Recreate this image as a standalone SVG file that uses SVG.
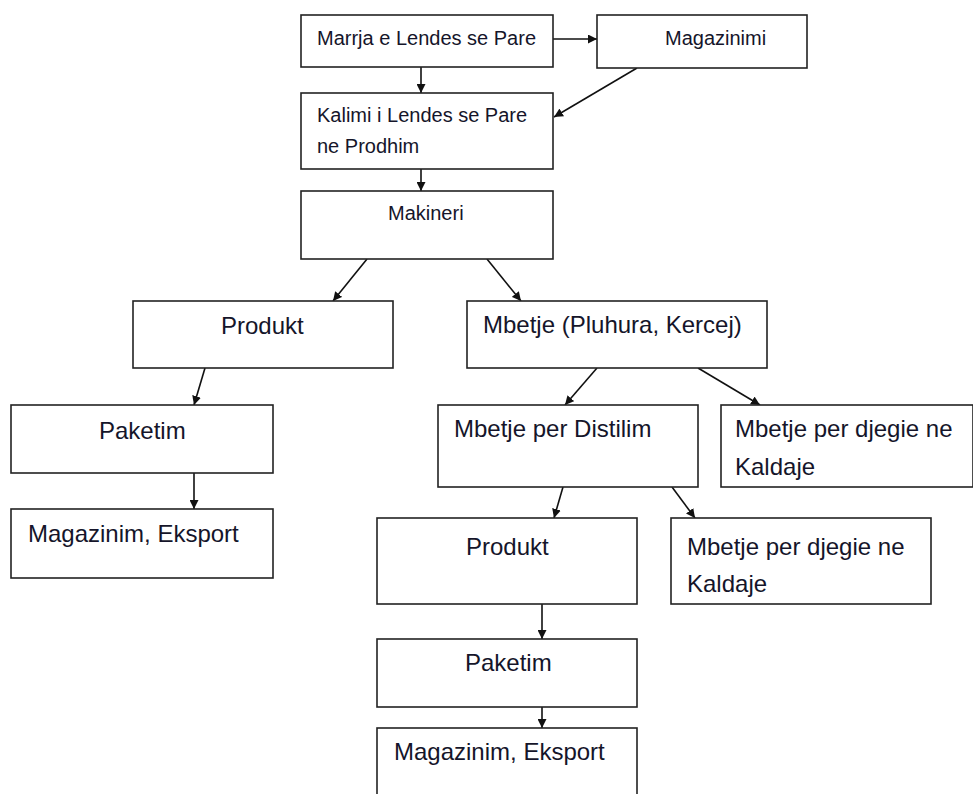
<svg xmlns="http://www.w3.org/2000/svg" width="973" height="794" viewBox="0 0 973 794">
<defs>
<marker id="ah" viewBox="0 0 10 10" refX="10" refY="5" markerWidth="9" markerHeight="9" markerUnits="userSpaceOnUse" orient="auto">
<path d="M0,0 L10,5 L0,10 z" fill="#111"/>
</marker>
<style>
.box{fill:#fff;stroke:#222;stroke-width:1.6}
.t{font-family:"Liberation Sans",Arial,sans-serif;fill:#15152a}
.s{font-size:20px}
.l{font-size:24px}
.c{stroke:#111;stroke-width:1.6;fill:none;marker-end:url(#ah)}
</style>
</defs>
<rect width="973" height="794" fill="#fff"/>
<g id="connectors">
<line class="c" x1="553" y1="39" x2="597" y2="39"/>
<line class="c" x1="421" y1="67" x2="421" y2="93"/>
<line class="c" x1="637" y1="68" x2="554" y2="117"/>
<line class="c" x1="421" y1="169" x2="421" y2="191"/>
<line class="c" x1="367" y1="259" x2="333" y2="301"/>
<line class="c" x1="487" y1="259" x2="521" y2="301"/>
<line class="c" x1="205" y1="368" x2="194" y2="405"/>
<line class="c" x1="194" y1="473" x2="194" y2="509"/>
<line class="c" x1="597" y1="368" x2="565" y2="405"/>
<line class="c" x1="698" y1="368" x2="760" y2="405"/>
<line class="c" x1="563" y1="487" x2="554" y2="518"/>
<line class="c" x1="672" y1="487" x2="695" y2="518"/>
<line class="c" x1="542" y1="604" x2="542" y2="639"/>
<line class="c" x1="542" y1="707" x2="542" y2="728"/>
</g>
<g id="n1"><rect class="box" x="301" y="15" width="252" height="52"/><text class="t s" x="317" y="45">Marrja e Lendes se Pare</text></g>
<g id="n2"><rect class="box" x="597" y="15" width="210" height="53"/><text class="t s" x="665" y="45">Magazinimi</text></g>
<g id="n3"><rect class="box" x="301" y="93" width="252" height="76"/><text class="t s" x="317" y="122">Kalimi i Lendes se Pare</text><text class="t s" x="317" y="153">ne Prodhim</text></g>
<g id="n4"><rect class="box" x="301" y="191" width="252" height="68"/><text class="t s" x="388" y="220">Makineri</text></g>
<g id="n5"><rect class="box" x="133" y="301" width="260" height="67"/><text class="t l" x="221" y="334">Produkt</text></g>
<g id="n6"><rect class="box" x="467" y="301" width="300" height="67"/><text class="t l" x="483" y="333">Mbetje (Pluhura, Kercej)</text></g>
<g id="n7"><rect class="box" x="11" y="405" width="262" height="68"/><text class="t l" x="99" y="439">Paketim</text></g>
<g id="n8"><rect class="box" x="11" y="509" width="262" height="69"/><text class="t l" x="28" y="542">Magazinim, Eksport</text></g>
<g id="n9"><rect class="box" x="438" y="405" width="260" height="82"/><text class="t l" x="454" y="437">Mbetje per Distilim</text></g>
<g id="n10"><rect class="box" x="721" y="405" width="252" height="82"/><text class="t l" x="735" y="437">Mbetje per djegie ne</text><text class="t l" x="735" y="475">Kaldaje</text></g>
<g id="n11"><rect class="box" x="377" y="518" width="260" height="86"/><text class="t l" x="466" y="555">Produkt</text></g>
<g id="n12"><rect class="box" x="671" y="518" width="260" height="86"/><text class="t l" x="687" y="555">Mbetje per djegie ne</text><text class="t l" x="687" y="592">Kaldaje</text></g>
<g id="n13"><rect class="box" x="377" y="639" width="260" height="68"/><text class="t l" x="465" y="671">Paketim</text></g>
<g id="n14"><rect class="box" x="377" y="728" width="260" height="80"/><text class="t l" x="394" y="760">Magazinim, Eksport</text></g>
</svg>
